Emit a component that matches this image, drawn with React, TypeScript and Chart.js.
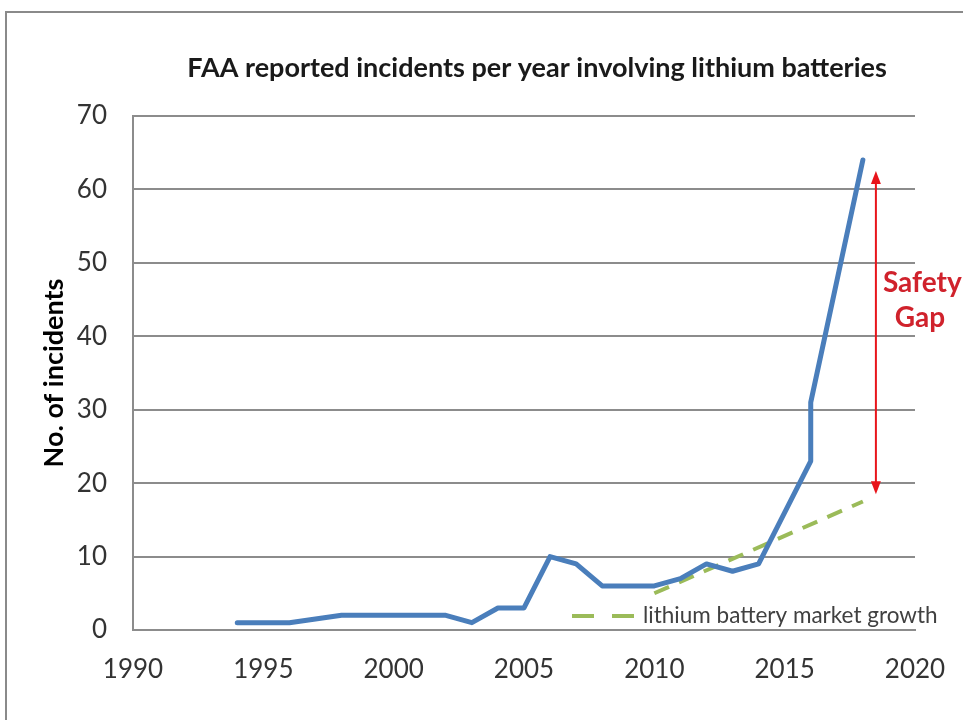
import React, { useEffect, useRef } from "react";
import { Chart, registerables } from "chart.js";

Chart.register(...registerables);

// ---- data ----
const incidentYears = [1994, 1996, 1998, 2002, 2003, 2004, 2005, 2006, 2007, 2008, 2010, 2011, 2012, 2013, 2014, 2016, 2016, 2018];
const incidentCounts = [1, 1, 2, 2, 1, 3, 3, 10, 9, 6, 6, 7, 9, 8, 9, 23, 31, 64];
const marketYears = [2010, 2018];
const marketGrowth = [5, 17.5];
const gapYear = 2018.5;
const gapTop = 62.5;
const gapBottom = 18.5;
const xMin = 1990;
const xMax = 2020;
const xStep = 5;
const yMin = 0;
const yMax = 70;
const yStep = 10;

const titleText = "FAA reported incidents per year involving lithium batteries";
const yTitleText = "No. of incidents";
const legendText = "lithium battery market growth";
const gapLines = ["Safety", "Gap"];

const FONT = "Lato, 'Open Sans', sans-serif";
const BLUE = "#4a7ebb";
const GREEN = "#9bbb59";
const RED = "#e8151b";
const GRID = "#8c8c8c";

const decorPlugin = {
  id: "decor",
  beforeDraw(chart: any) {
    const ctx = chart.ctx;
    ctx.save();
    ctx.fillStyle = "#ffffff";
    ctx.fillRect(0, 0, chart.width, chart.height);
    ctx.strokeStyle = "#8a8a8a";
    ctx.lineWidth = 2;
    ctx.strokeRect(6, 12, chart.width + 40, chart.height + 40);
    ctx.restore();
  },
  afterDraw(chart: any) {
    const ctx = chart.ctx;
    const xs = chart.scales.x;
    const ys = chart.scales.y;
    ctx.save();
    // title
    ctx.fillStyle = "#1a1a1a";
    ctx.font = `bold 27px ${FONT}`;
    ctx.textAlign = "center";
    ctx.textBaseline = "middle";
    ctx.fillText(titleText, 537, 68);

    // safety gap arrow
    const ax = xs.getPixelForValue(gapYear);
    const at = ys.getPixelForValue(gapTop);
    const ab = ys.getPixelForValue(gapBottom);
    ctx.strokeStyle = RED;
    ctx.fillStyle = RED;
    ctx.lineWidth = 2;
    ctx.beginPath();
    ctx.moveTo(ax, at + 10);
    ctx.lineTo(ax, ab - 10);
    ctx.stroke();
    ctx.beginPath();
    ctx.moveTo(ax, at);
    ctx.lineTo(ax - 5, at + 13);
    ctx.lineTo(ax + 5, at + 13);
    ctx.closePath();
    ctx.fill();
    ctx.beginPath();
    ctx.moveTo(ax, ab);
    ctx.lineTo(ax - 5, ab - 13);
    ctx.lineTo(ax + 5, ab - 13);
    ctx.closePath();
    ctx.fill();

    // safety gap text
    ctx.fillStyle = "#d0222c";
    ctx.font = `bold 28px ${FONT}`;
    ctx.textBaseline = "alphabetic";
    ctx.textAlign = "left";
    ctx.fillText(gapLines[0], ax + 7, 292);
    ctx.textAlign = "center";
    ctx.fillText(gapLines[1], ax + 44, 327);

    // legend
    const ly = 616;
    ctx.strokeStyle = GREEN;
    ctx.lineWidth = 4;
    ctx.setLineDash([22, 18]);
    ctx.beginPath();
    ctx.moveTo(572, ly);
    ctx.lineTo(636, ly);
    ctx.stroke();
    ctx.setLineDash([]);
    ctx.fillStyle = "#404040";
    ctx.font = `22.5px ${FONT}`;
    ctx.textAlign = "left";
    ctx.textBaseline = "middle";
    ctx.fillText(legendText, 643, ly);
    ctx.restore();
  },
};

export default function App() {
  const ref = useRef<HTMLCanvasElement | null>(null);
  useEffect(() => {
    if (!ref.current) return;
    const chart = new Chart(ref.current, {
      type: "line",
      data: {
        datasets: [
          {
            label: "incidents",
            data: incidentYears.map((x, i) => ({ x, y: incidentCounts[i] })),
            borderColor: BLUE,
            borderWidth: 5,
            pointRadius: 0,
            tension: 0,
            borderJoinStyle: "round",
            borderCapStyle: "round",
            clip: false,
          },
          {
            label: legendText,
            data: marketYears.map((x, i) => ({ x, y: marketGrowth[i] })),
            borderColor: GREEN,
            borderWidth: 4,
            borderDash: [16, 11],
            pointRadius: 0,
            tension: 0,
            clip: false,
          },
        ],
      },
      options: {
        responsive: false,
        animation: false,
        layout: { padding: { left: 6, right: 48, top: 116, bottom: 0 } },
        plugins: {
          legend: { display: false },
          title: { display: false },
          tooltip: { enabled: false },
        },
        scales: {
          x: {
            type: "linear",
            min: xMin,
            max: xMax,
            ticks: {
              stepSize: xStep,
              callback: (v: any) => String(v),
              font: { family: FONT, size: 26 },
              color: "#333333",
              padding: 24,
              maxRotation: 0,
            },
            grid: { drawOnChartArea: false, drawTicks: false, color: GRID },
            border: { color: GRID, width: 2 },
            afterFit: (s: any) => {
              s.height = 90;
              s.paddingLeft = 0;
              s.paddingRight = 0;
            },
          },
          y: {
            min: yMin,
            max: yMax,
            ticks: {
              stepSize: yStep,
              font: { family: FONT, size: 26 },
              color: "#333333",
              padding: 26,
            },
            grid: { color: GRID, lineWidth: 2, drawTicks: false },
            border: { color: GRID, width: 2 },
            title: {
              display: true,
              text: yTitleText,
              font: { family: FONT, size: 27, weight: "bold" },
              color: "#000000",
              padding: { top: 32, bottom: 0 },
            },
            afterFit: (s: any) => {
              s.width = 127;
              s.paddingTop = 0;
              s.paddingBottom = 0;
            },
          },
        },
      },
      plugins: [decorPlugin],
    } as any);
    return () => chart.destroy();
  }, []);
  return (
    <div style={{ position: "fixed", left: 0, top: 0, width: 963, height: 720, background: "#fff" }}>
      <canvas ref={ref} width={963} height={720} style={{ width: 963, height: 720, display: "block" }} />
    </div>
  );
}
